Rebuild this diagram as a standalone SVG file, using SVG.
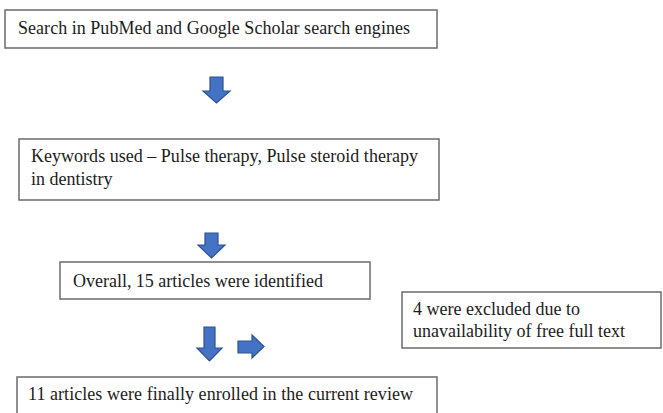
<svg xmlns="http://www.w3.org/2000/svg" width="663" height="413" viewBox="0 0 663 413">
<style>
.box{fill:#fff;stroke:#6b6b6b;stroke-width:1.5}
.t{font-family:"Liberation Serif","Times New Roman",serif;font-size:18px;fill:#1c1c1c}
.arr{fill:#4472c4;stroke:#2f528f;stroke-width:1.2;stroke-linejoin:miter}
</style>
<rect width="663" height="413" fill="#fff"/>
<g id="n1"><rect class="box" x="5" y="10" width="432" height="38"/><text class="t" x="18" y="34" textLength="392">Search in PubMed and Google Scholar search engines</text></g>
<g id="n2"><rect class="box" x="19" y="139" width="420" height="61"/><text class="t" x="31" y="162" textLength="387">Keywords used – Pulse therapy, Pulse steroid therapy</text><text class="t" x="31" y="185">in dentistry</text></g>
<g id="n3"><rect class="box" x="60" y="262" width="310" height="37"/><text class="t" x="73" y="287" textLength="250">Overall, 15 articles were identified</text></g>
<g id="n4"><rect class="box" x="402" y="292" width="259" height="56"/><text class="t" x="413" y="315">4 were excluded due to</text><text class="t" x="413" y="337">unavailability of free full text</text></g>
<g id="n5"><rect class="box" x="17" y="377" width="420" height="45"/><text class="t" x="28" y="400" textLength="385">11 articles were finally enrolled in the current review</text></g>
<g id="connectors">
<path class="arr" d="M210,77 H223 V91 H230 L216.5,103 L203,91 H210 Z"/>
<path class="arr" d="M205,233 H218 V245 H225 L211.5,258 L198,245 H205 Z"/>
<path class="arr" d="M204,327 H215 V348 H222 L209.5,361 L197,348 H204 Z"/>
<path class="arr" d="M238,341 H252 V335 L264,346.5 L252,358 V353 H238 Z"/>
</g>
</svg>
